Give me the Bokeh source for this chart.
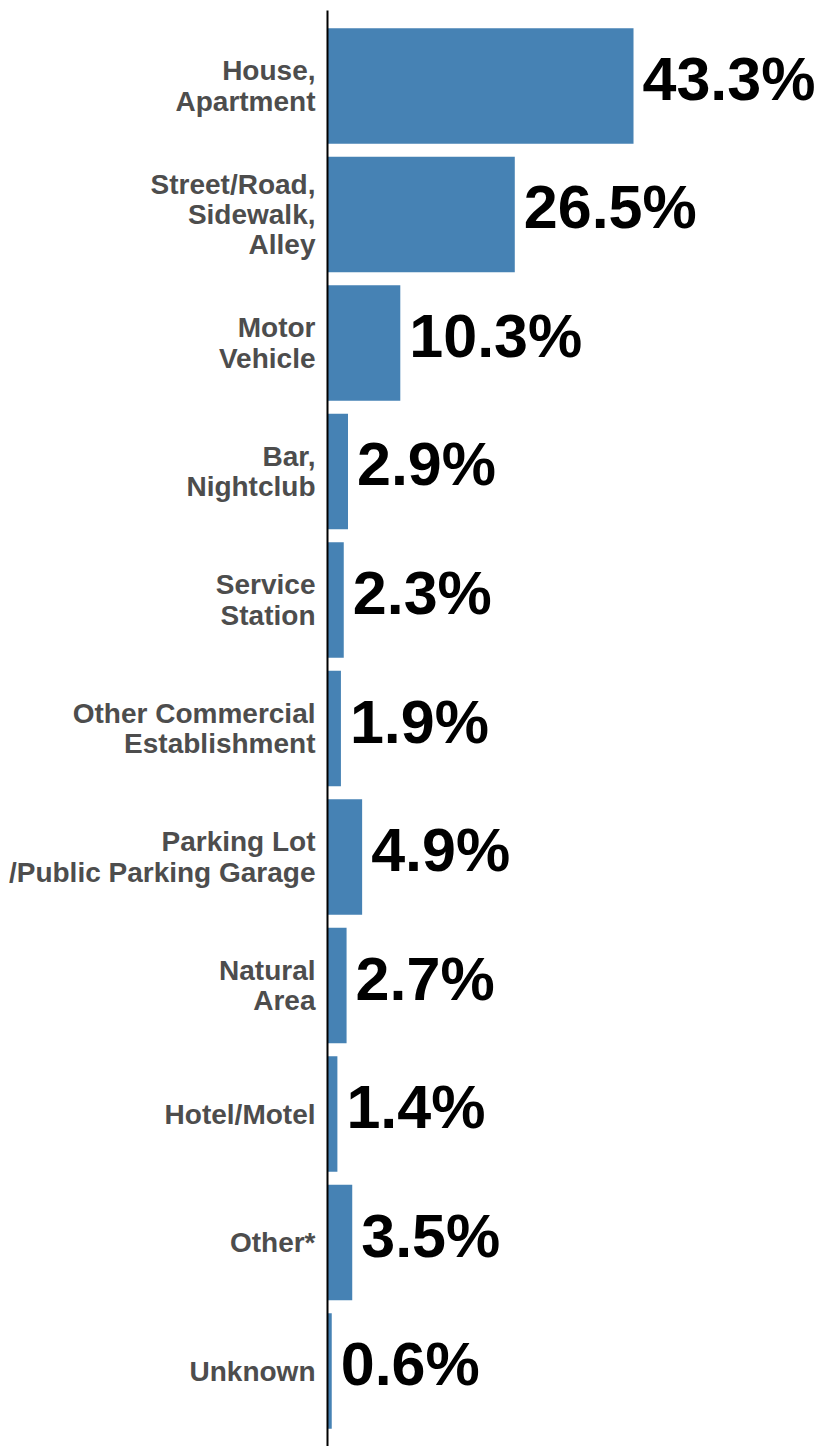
from bokeh.plotting import figure
from bokeh.models import Range1d, FixedTicker
from bokeh.core.properties import value
from bokeh.embed import file_html
from bokeh.resources import INLINE

categories = [
    "House,\nApartment",
    "Street/Road,\nSidewalk,\nAlley",
    "Motor\nVehicle",
    "Bar,\nNightclub",
    "Service\nStation",
    "Other Commercial\nEstablishment",
    "Parking Lot\n/Public Parking Garage",
    "Natural\nArea",
    "Hotel/Motel",
    "Other*",
    "Unknown",
]
percents = [43.3, 26.5, 10.3, 2.9, 2.3, 1.9, 4.9, 2.7, 1.4, 3.5, 0.6]

n = len(categories)
ypos = [n - 1 - i for i in range(n)]
labels = [f"{v:.1f}%" for v in percents]

p = figure(width=822, height=1446, output_backend="svg", toolbar_location=None,
           x_axis_location=None, x_range=Range1d(0, 70.04),
           y_range=Range1d(-0.5875, n - 1 + 0.5875),
           min_border_left=327, min_border_top=10, min_border_bottom=0, min_border_right=0)

p.hbar(y=ypos, right=percents, left=0, height=0.9, color="#4682B4", line_color=None)
p.text(x=percents, y=ypos, text=labels, x_offset=9, y_offset=-7, text_baseline="middle",
       text_align="left", text_font=value("Liberation Sans"), text_font_style="bold",
       text_font_size="61px", text_color="black")

ax = p.yaxis[0]
ax.ticker = FixedTicker(ticks=ypos)
ax.major_label_overrides = {y: c for y, c in zip(ypos, categories)}
ax.major_tick_line_color = None
ax.minor_tick_line_color = None
ax.axis_line_color = "black"
ax.axis_line_width = 2
ax.major_label_standoff = 6
ax.major_label_text_font = "Liberation Sans"
ax.major_label_text_font_style = "bold"
ax.major_label_text_font_size = "28px"
ax.major_label_text_color = "#4D4D4D"
ax.major_label_text_line_height = 0.97

p.xgrid.visible = False
p.ygrid.visible = False
p.outline_line_color = None
p.background_fill_color = "white"
p.border_fill_color = "white"

open("out.html", "w").write(file_html(p, INLINE))
